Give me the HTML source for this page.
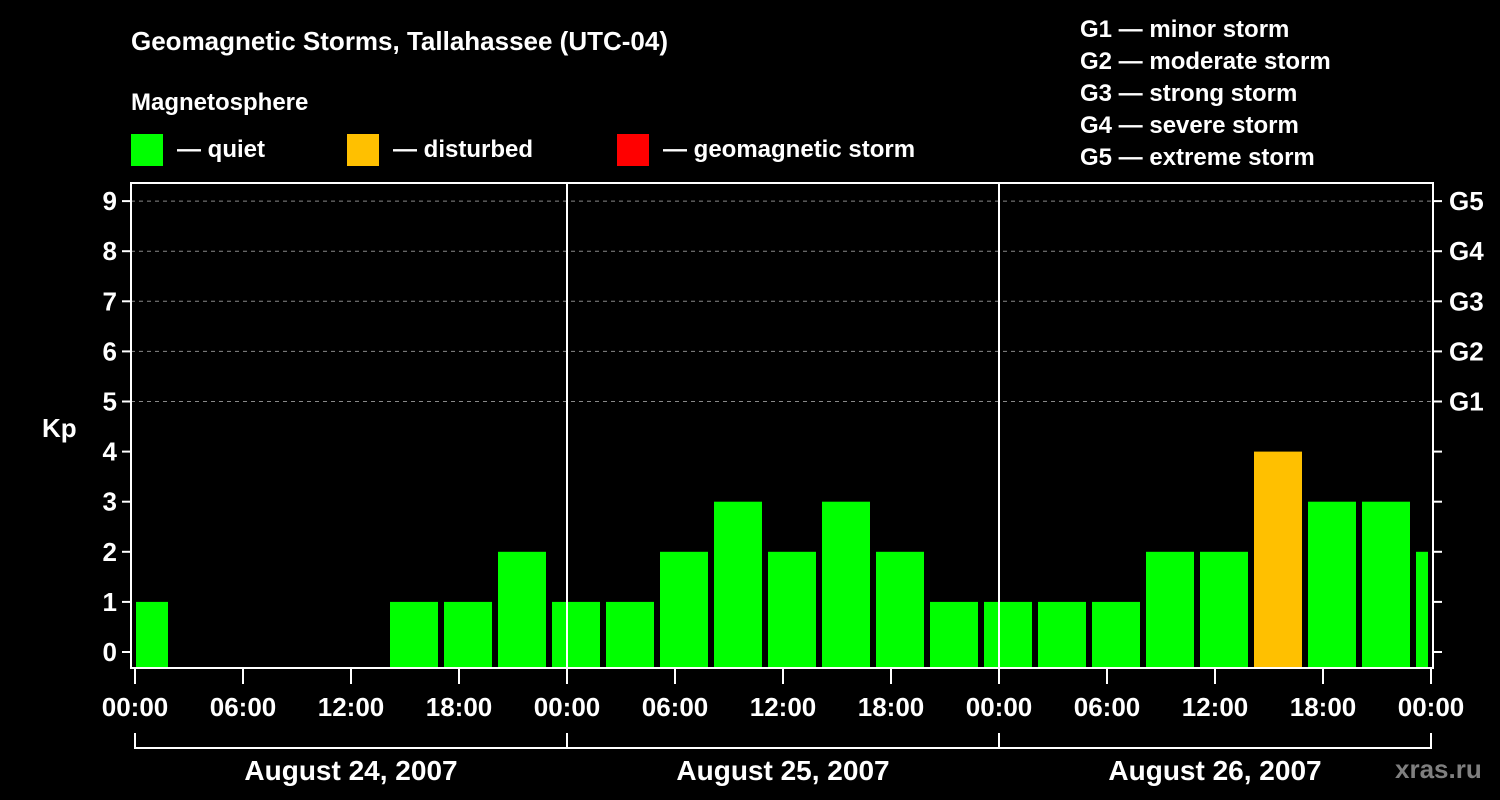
<!DOCTYPE html>
<html><head><meta charset="utf-8"><style>
html,body{margin:0;padding:0;background:#000}
svg{display:block}
text{font-family:"Liberation Sans",Arial,sans-serif;font-weight:bold;fill:#fff}
</style></head><body>
<svg id="chart" width="1500" height="800" viewBox="0 0 1500 800">
<rect width="1500" height="800" fill="#000"/>
<text x="131" y="50" font-size="26">Geomagnetic Storms, Tallahassee (UTC-04)</text>
<text x="131" y="110" font-size="24">Magnetosphere</text>
<g><rect x="131" y="134" width="32" height="32" fill="#00ff00"/><text x="177" y="157" font-size="24">— quiet</text></g>
<g><rect x="347" y="134" width="32" height="32" fill="#ffc000"/><text x="393" y="157" font-size="24">— disturbed</text></g>
<g><rect x="617" y="134" width="32" height="32" fill="#ff0000"/><text x="663" y="157" font-size="24">— geomagnetic storm</text></g>
<g font-size="24">
<text x="1080" y="37">G1 — minor storm</text>
<text x="1080" y="69">G2 — moderate storm</text>
<text x="1080" y="101">G3 — strong storm</text>
<text x="1080" y="133">G4 — severe storm</text>
<text x="1080" y="165">G5 — extreme storm</text>
</g>
<text x="42" y="437" font-size="26">Kp</text>
<text x="1395" y="778" font-size="26" fill="#888" style="fill:#7f7f7f">xras.ru</text>
<g id="grid"></g>
<g id="bars"></g>
<g id="axes"></g>
</svg>
<script>
const slotStartHours=[-1,2,5,8,11,14,17,20,23,26,29,32,35,38,41,44,47,50,53,56,59,62,65,68,71];
const kpValues=[1,null,null,null,null,1,1,2,1,1,2,3,2,3,2,1,1,1,1,2,2,4,3,3,2];
const yTicks=[0,1,2,3,4,5,6,7,8,9];
const gLabels=["G1","G2","G3","G4","G5"];
const xTickLabels=["00:00","06:00","12:00","18:00","00:00","06:00","12:00","18:00","00:00","06:00","12:00","18:00","00:00"];
const dayLabels=["August 24, 2007","August 25, 2007","August 26, 2007"];

const NS="http://www.w3.org/2000/svg";
const L=131,R=1433,T=183,B=668,X0=135,PXH=18;
const x=h=>X0+h*PXH;
const y=v=>652-v*50.1;
function mk(tag,attrs,parent){const e=document.createElementNS(NS,tag);for(const k in attrs)e.setAttribute(k,attrs[k]);parent.appendChild(e);return e;}
const grid=document.getElementById('grid'),bars=document.getElementById('bars'),axes=document.getElementById('axes');

yTicks.forEach(v=>{
  if(v>=5){const g=mk('line',{x1:L,x2:R,y1:y(v),y2:y(v),stroke:'#888','stroke-width':1,'stroke-dasharray':'4,4'},grid);
  
  }
  const t=mk('line',{x1:L-9,x2:L,y1:y(v),y2:y(v),stroke:'#fff','stroke-width':2},axes);
  
  
  const t2=mk('line',{x1:R,x2:R+9,y1:y(v),y2:y(v),stroke:'#fff','stroke-width':2},axes);
  
  
  const lb=mk('text',{x:L-14,y:y(v)+9,'font-size':26,'text-anchor':'end'},axes);
  lb.textContent=v;
  
  
});
gLabels.forEach((g,i)=>{
  const lb=mk('text',{x:R+16,y:y(i+5)+9,'font-size':26},axes);
  lb.textContent=g;
  
  
});
slotStartHours.forEach((h,i)=>{
  const v=kpValues[i];if(v===null||v===undefined)return;
  let x1=Math.max(x(h)+3,L+5),x2=Math.min(x(h+3)-3,R-5);
  const col=v>=5?'#ff0000':(v>=4?'#ffc000':'#00ff00');
  const b=mk('rect',{x:x1,y:y(v),width:x2-x1,height:B-y(v),fill:col},bars);
  
  
});
[1,2].forEach(d=>{const l=mk('line',{x1:x(d*24),x2:x(d*24),y1:T,y2:B,stroke:'#fff','stroke-width':2},axes);
  
  });
const fr=mk('rect',{x:L,y:T,width:R-L,height:B-T,fill:'none',stroke:'#fff','stroke-width':2},axes);


xTickLabels.forEach((s,i)=>{
  const xx=x(i*6);
  const tk=mk('line',{x1:xx,x2:xx,y1:B,y2:B+16,stroke:'#fff','stroke-width':2},axes);
  
  
  const lb=mk('text',{x:xx,y:716,'font-size':26,'text-anchor':'middle'},axes);
  lb.textContent=s;
  
  
});
const br=mk('path',{d:'',fill:'none',stroke:'#fff','stroke-width':2},axes);
let d='M'+x(0)+' 733 V748 H'+x(72)+' V733';
[1,2].forEach(k=>{d+=' M'+x(k*24)+' 733 V748';});
br.setAttribute('d',d);


dayLabels.forEach((s,i)=>{
  const lb=mk('text',{x:x(i*24+12),y:780,'font-size':28,'text-anchor':'middle'},axes);
  lb.textContent=s;
  
  
});
</script>
</body></html>
